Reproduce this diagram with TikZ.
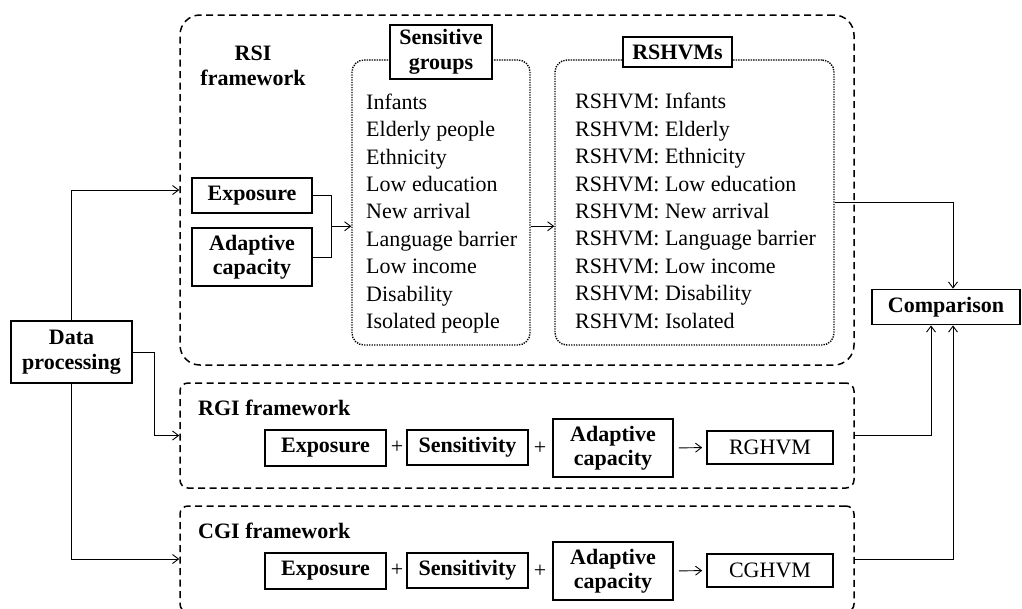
\documentclass[tikz,border=0pt]{standalone}
\usepackage{fontspec}
\setmainfont{Liberation Serif}
\usetikzlibrary{arrows.meta,calc}
\begin{document}
\begin{tikzpicture}[x=1pt,y=-1pt,
  every node/.style={inner sep=0pt, font=\fontsize{22}{27.4}\selectfont},
  bfont/.style={font=\fontsize{22}{24.5}\selectfont\bfseries, align=center},
  thickbox/.style={draw, line width=1.8pt, bfont},
  thinbox/.style={draw, line width=1.6pt},
  frame/.style={draw, line width=1.5pt, dash pattern=on 7pt off 4.5pt},
  dotbox/.style={draw, line width=1.4pt, dash pattern=on 1.3pt off 1.2pt, rounded corners=12pt},
  conn/.style={line width=0.9pt},
  arr/.style={conn, -{Straight Barb[length=6pt,width=9pt]}}]
\useasboundingbox (0,0) rectangle (1022,608);

% frames
\node[frame, rounded corners=20pt, minimum width=674pt, minimum height=350pt] (rsi) at (517,190) {};
\node[frame, rounded corners=8pt, minimum width=674pt, minimum height=105pt] (rgi) at (517,435.5) {};
\node[frame, rounded corners=8pt, minimum width=674pt, minimum height=106pt] (cgi) at (517,559) {};

% data processing
\node[thickbox, minimum width=121pt, minimum height=62pt] (dp) at (71.5,352) {Data\\processing};

% RSI
\node[bfont] (rsit) at (253,66) {RSI\\framework};
\node[thickbox, minimum width=120pt, minimum height=35pt] (exp1) at (252,195.5) {Exposure};
\node[thickbox, minimum width=120pt, minimum height=58pt] (ada1) at (252,257) {Adaptive\\capacity};

\node[dotbox, minimum width=178pt, minimum height=285pt] (sg) at (441,202.5) {};
\node[thickbox, fill=white, minimum width=102pt, minimum height=54pt] (sgt) at (441,52) {Sensitive\\groups};
\node[anchor=west, align=left] (sgl) at (366,213.5) {Infants\\Elderly people\\Ethnicity\\Low education\\New arrival\\Language barrier\\Low income\\Disability\\Isolated people};

\node[dotbox, minimum width=279pt, minimum height=285pt] (rsh) at (694.5,202.5) {};
\node[thickbox, fill=white, minimum width=109pt, minimum height=30pt] (rsht) at (677.5,52) {RSHVMs};
\node[anchor=west, align=left] (rshl) at (575,211) {RSHVM: Infants\\RSHVM: Elderly\\RSHVM: Ethnicity\\RSHVM: Low education\\RSHVM: New arrival\\RSHVM: Language barrier\\RSHVM: Low income\\RSHVM: Disability\\RSHVM: Isolated};

% comparison
\node[thickbox, minimum width=148pt, minimum height=35pt] (comp) at (946,307) {Comparison};

% RGI
\node[bfont, anchor=west] (rgit) at (198,408) {RGI framework};
\node[thickbox, minimum width=121pt, minimum height=36pt] (exp2) at (325.5,448) {Exposure};
\node (pa2) at (397,447) {+};
\node[thickbox, minimum width=121pt, minimum height=35pt] (sen2) at (467.5,447.5) {Sensitivity};
\node (pb2) at (540,448) {+};
\node[thickbox, minimum width=120pt, minimum height=58pt] (ada2) at (613,448) {Adaptive\\capacity};
\node[thinbox, minimum width=126pt, minimum height=33pt] (rg) at (770,447.5) {RGHVM};

% CGI
\node[bfont, anchor=west] (cgit) at (198,531) {CGI framework};
\node[thickbox, minimum width=121pt, minimum height=36pt] (exp3) at (325.5,571) {Exposure};
\node (pa3) at (397,570) {+};
\node[thickbox, minimum width=121pt, minimum height=35pt] (sen3) at (467.5,570.5) {Sensitivity};
\node (pb3) at (540,571) {+};
\node[thickbox, minimum width=120pt, minimum height=58pt] (ada3) at (613,571) {Adaptive\\capacity};
\node[thinbox, minimum width=126pt, minimum height=33pt] (cg) at (770,570.5) {CGHVM};

% connectors
\draw[arr] (dp.north) |- (rsi.west);
\draw[arr] (dp.east) -| ([xshift=-25pt]rgi.west) -- (rgi.west);
\draw[arr] (dp.south) |- (cgi.west);

\coordinate (bk) at ($(exp1.east)!.5!(ada1.east)+(19,0)$);
\draw[conn] (exp1.east) -| (bk) |- (ada1.east);
\draw[arr] (bk) -- (bk -| sg.west);
\draw[arr] (bk -| sg.east) -- (bk -| rsh.west);

\draw[arr, shorten <=5pt, shorten >=4pt] (ada2.east) -- (rg.west);
\draw[arr, shorten <=5pt, shorten >=4pt] (ada3.east) -- (cg.west);

\draw[arr] (rsh.east) -| ([xshift=7pt]comp.north);
\draw[arr] (rgi.east) -| ([xshift=-15pt]comp.south);
\draw[arr] (cgi.east) -| ([xshift=7pt]comp.south);
\end{tikzpicture}
\end{document}
